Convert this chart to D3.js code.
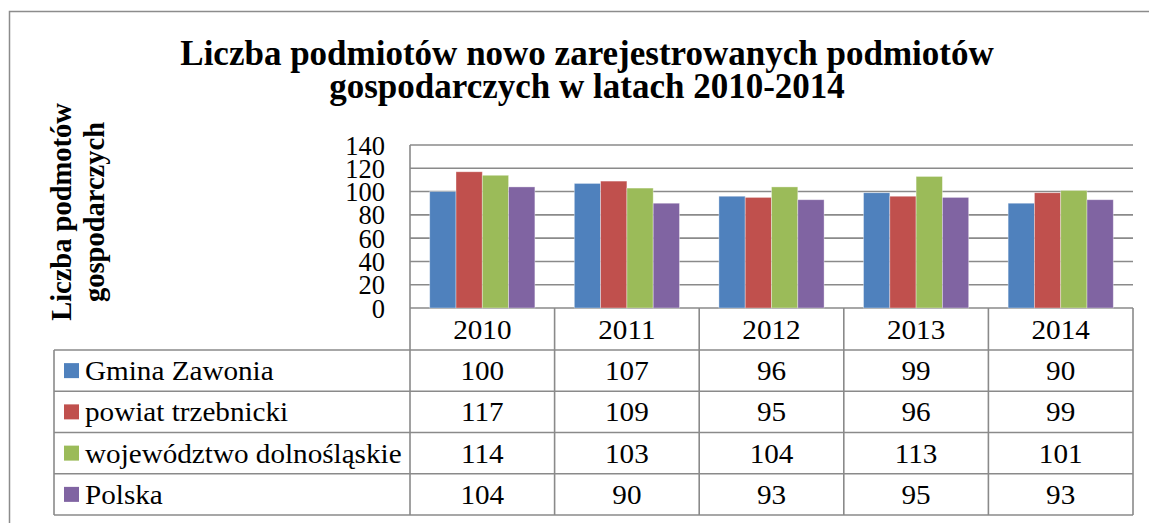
<!DOCTYPE html>
<html>
<head>
<meta charset="utf-8">
<script src="https://cdn.jsdelivr.net/npm/d3@7"></script>
<style>
  html, body { margin: 0; padding: 0; background: #ffffff; }
  svg { display: block; }
  svg text { font-family: "Liberation Serif", "Times New Roman", "DejaVu Serif", serif; }
</style>
</head>
<body>
<div id="chart"></div>
<script>
// data
var years = ['2010', '2011', '2012', '2013', '2014'];
var seriesNames = ['Gmina Zawonia', 'powiat trzebnicki', 'województwo dolnośląskie', 'Polska'];
var gminaZawonia = [100, 107, 96, 99, 90];
var powiatTrzebnicki = [117, 109, 95, 96, 99];
var wojDolnoslaskie = [114, 103, 104, 113, 101];
var polska = [104, 90, 93, 95, 93];
var seriesColors = ['#4F81BD', '#C0504D', '#9BBB59', '#8064A2'];
var yTicks = [0, 20, 40, 60, 80, 100, 120, 140];
var titleLines = ['Liczba podmiotów nowo zarejestrowanych podmiotów', 'gospodarczych w latach 2010-2014'];
var yTitleLines = ['Liczba podmotów', 'gospodarczych'];

var seriesValues = [gminaZawonia, powiatTrzebnicki, wojDolnoslaskie, polska];

var W = 1149, H = 523;
var plotL = 410, plotR = 1133, plotT = 145, plotB = 308;
var tableL = 54, rowH = 41.25, headH = 42;
var gridCol = '#8a8a8a';
var serif = '"Liberation Serif", "Times New Roman", "DejaVu Serif", serif';
var SX = 1.08; // the reference text is a bit wider than plain Times

var svg = d3.select('#chart').append('svg')
  .attr('width', W)
  .attr('height', H);

svg.append('rect').attr('width', W).attr('height', H).style('fill', '#ffffff');

// outer frame (only left and top visible)
svg.append('path')
  .attr('d', 'M9.5,' + H + 'V11.5H' + W)
  .style('fill', 'none')
  .style('stroke', '#8c8c8c')
  .style('stroke-width', 1.5);

// scales
var x0 = d3.scaleBand().domain(years).range([plotL, plotR]);
var x1 = d3.scaleBand().domain(d3.range(seriesNames.length))
  .range([0, x0.bandwidth()]).paddingInner(0).paddingOuter(0.75);
var y = d3.scaleLinear().domain([0, 140]).range([plotB, plotT]);

// gridlines
svg.append('g').selectAll('line')
  .data(yTicks)
  .enter().append('line')
  .attr('x1', plotL).attr('x2', plotR)
  .attr('y1', function(d) { return y(d); })
  .attr('y2', function(d) { return y(d); })
  .style('stroke', gridCol)
  .style('stroke-width', 1.6);

// bars
var groups = svg.append('g').selectAll('g')
  .data(years)
  .enter().append('g')
  .attr('transform', function(d) { return 'translate(' + x0(d) + ',0)'; });

groups.selectAll('rect')
  .data(function(d, i) {
    return seriesValues.map(function(vals, s) { return { s: s, v: vals[i] }; });
  })
  .enter().append('rect')
  .attr('x', function(d) { return x1(d.s); })
  .attr('width', x1.bandwidth())
  .attr('y', function(d) { return y(d.v); })
  .attr('height', function(d) { return y(0) - y(d.v); })
  .style('fill', function(d) { return seriesColors[d.s]; })
  .style('stroke', 'rgba(255,255,255,0.45)')
  .style('stroke-width', 0.8);

// y axis labels
var yAxis = d3.axisLeft(y).tickValues(yTicks).tickSize(0).tickPadding(0);
var gy = svg.append('g').attr('transform', 'translate(385,0)').call(yAxis);
gy.attr('font-family', null).attr('font-size', null);
gy.select('.domain').remove();
gy.selectAll('text')
  .attr('x', 0)
  .attr('dy', '0.34em')
  .style('font-family', serif)
  .style('font-size', '26.5px')
  .style('fill', '#000');

// vertical axis line
svg.append('line')
  .attr('x1', plotL).attr('x2', plotL)
  .attr('y1', plotT).attr('y2', plotB + headH + rowH * seriesNames.length)
  .style('stroke', gridCol).style('stroke-width', 1.6);

// data table
var tableTop = plotB + headH;
var tableBot = tableTop + rowH * seriesNames.length;
var tbl = svg.append('g');

// header verticals
tbl.selectAll('line.hv')
  .data(years)
  .enter().append('line')
  .attr('class', 'hv')
  .attr('x1', function(d) { return x0(d) + x0.bandwidth(); })
  .attr('x2', function(d) { return x0(d) + x0.bandwidth(); })
  .attr('y1', plotB).attr('y2', tableBot)
  .style('stroke', gridCol).style('stroke-width', 1.6);

// horizontal rules
tbl.selectAll('line.hr')
  .data(d3.range(seriesNames.length + 1))
  .enter().append('line')
  .attr('class', 'hr')
  .attr('x1', tableL).attr('x2', plotR)
  .attr('y1', function(i) { return tableTop + i * rowH; })
  .attr('y2', function(i) { return tableTop + i * rowH; })
  .style('stroke', gridCol).style('stroke-width', 1.6);

tbl.append('line')
  .attr('x1', tableL).attr('x2', tableL)
  .attr('y1', tableTop).attr('y2', tableBot)
  .style('stroke', gridCol).style('stroke-width', 1.6);

function cellText(g, x, yy, txt, anchor) {
  return g.append('text')
    .attr('transform', 'translate(' + x + ',' + yy + ') scale(' + SX + ',1)')
    .attr('text-anchor', anchor)
    .style('font-family', serif)
    .style('font-size', '27px')
    .style('fill', '#000')
    .text(txt);
}

// header row: years
years.forEach(function(yr) {
  cellText(tbl, x0(yr) + x0.bandwidth() / 2, plotB + headH / 2 + 10, yr, 'middle');
});

// series rows
seriesNames.forEach(function(name, s) {
  var rowMid = tableTop + rowH * s + rowH / 2;
  tbl.append('rect')
    .attr('x', 64).attr('y', rowMid - 7.5)
    .attr('width', 15).attr('height', 15)
    .style('fill', seriesColors[s]);
  cellText(tbl, 85, rowMid + 9.5, name, 'start');
  years.forEach(function(yr, i) {
    cellText(tbl, x0(yr) + x0.bandwidth() / 2, rowMid + 9.5, seriesValues[s][i], 'middle');
  });
});

// chart title
svg.append('text')
  .attr('text-anchor', 'middle')
  .style('font-family', serif)
  .style('font-size', '35px')
  .style('font-weight', 'bold')
  .selectAll('tspan')
  .data(titleLines)
  .enter().append('tspan')
  .attr('x', 587)
  .attr('y', function(d, i) { return 65 + i * 33; })
  .text(function(d) { return d; });

// vertical axis title
svg.append('text')
  .attr('transform', 'translate(0,212) rotate(-90)')
  .attr('text-anchor', 'middle')
  .style('font-family', serif)
  .style('font-size', '28.5px')
  .style('font-weight', 'bold')
  .selectAll('tspan')
  .data(yTitleLines)
  .enter().append('tspan')
  .attr('x', 0)
  .attr('y', function(d, i) { return 71 + i * 33; })
  .text(function(d) { return d; });
</script>
</body>
</html>
